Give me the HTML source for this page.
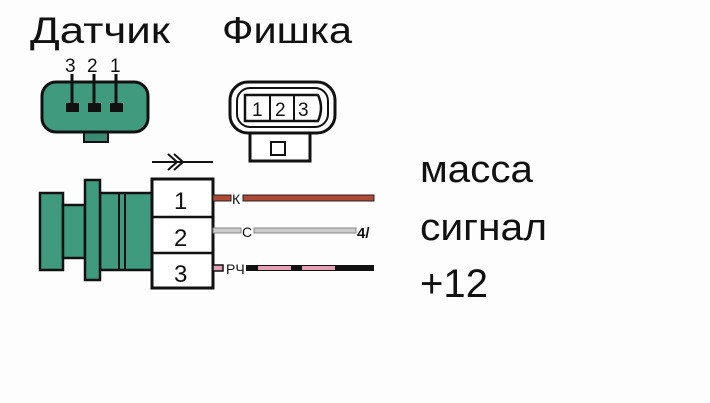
<!DOCTYPE html>
<html><head><meta charset="utf-8"><style>
html,body{margin:0;padding:0;background:#fff;}
svg{display:block}
text{font-family:"Liberation Sans","DejaVu Sans",sans-serif;fill:#111}
</style></head><body>
<svg width="710" height="403" viewBox="0 0 710 403" xmlns="http://www.w3.org/2000/svg">
<rect width="710" height="403" fill="#fdfdfd"/>
<text x="30" y="43" font-size="37" textLength="140" lengthAdjust="spacingAndGlyphs">Датчик</text>
<text x="222" y="43" font-size="37" textLength="130" lengthAdjust="spacingAndGlyphs">Фишка</text>
<!-- sensor connector top view -->
<text x="65" y="72" font-size="19">3</text>
<text x="87" y="72" font-size="19">2</text>
<text x="110" y="72" font-size="19">1</text>
<rect x="84" y="130" width="24" height="12" fill="#3a8a72" stroke="#111" stroke-width="2"/>
<rect x="42" y="82" width="106" height="50" rx="14" fill="#3f9a7e" stroke="#111" stroke-width="3"/>
<g stroke="#111" stroke-width="3"><line x1="72" y1="74" x2="72" y2="104"/><line x1="94" y1="74" x2="94" y2="104"/><line x1="116" y1="74" x2="116" y2="104"/></g>
<g fill="#111"><rect x="66" y="103" width="13" height="9"/><rect x="88" y="103" width="13" height="9"/><rect x="110" y="103" width="13" height="9"/></g>
<!-- fishka -->
<rect x="250" y="132" width="60" height="29" fill="#fff" stroke="#111" stroke-width="3"/>
<rect x="271" y="142" width="14" height="13" fill="#fff" stroke="#111" stroke-width="2"/>
<rect x="230" y="82" width="105" height="51" rx="18" fill="#fff" stroke="#111" stroke-width="3"/>
<rect x="237" y="88" width="91" height="39" rx="13" fill="#fff" stroke="#111" stroke-width="2"/>
<path d="M245 95 L318 95 Q324 108 318 121 L245 121 Z" fill="#fff" stroke="#111" stroke-width="2.5"/>
<line x1="270" y1="95" x2="270" y2="121" stroke="#111" stroke-width="2"/>
<line x1="294" y1="95" x2="294" y2="121" stroke="#111" stroke-width="2"/>
<text x="252" y="116" font-size="19">1</text>
<text x="275" y="116" font-size="19">2</text>
<text x="298" y="116" font-size="19">3</text>
<!-- arrow -->
<line x1="152" y1="162" x2="213" y2="162" stroke="#111" stroke-width="2"/>
<path d="M168 154 L177 162 L168 170 M174 154 L183 162 L174 170" fill="none" stroke="#111" stroke-width="2"/>
<!-- sensor body side -->
<g stroke="#111" stroke-width="2.5" fill="#3f9a7e">
<rect x="40" y="193" width="23" height="77"/>
<rect x="63" y="205" width="22" height="53"/>
<rect x="100" y="193" width="53" height="77"/>
<rect x="85" y="180" width="15" height="100"/>
</g>
<line x1="119" y1="193" x2="119" y2="270" stroke="#111" stroke-width="2"/>
<line x1="125" y1="193" x2="125" y2="270" stroke="#111" stroke-width="2"/>
<!-- pin box -->
<rect x="152" y="179" width="61" height="109" fill="#fff" stroke="#111" stroke-width="3"/>
<line x1="152" y1="217" x2="213" y2="217" stroke="#111" stroke-width="2.5"/>
<line x1="152" y1="253" x2="213" y2="253" stroke="#111" stroke-width="2.5"/>
<text x="174" y="209" font-size="24">1</text>
<text x="174" y="246" font-size="24">2</text>
<text x="174" y="282" font-size="24">3</text>
<!-- wires -->
<rect x="213" y="195" width="18" height="6" fill="#b14a34" stroke="#222" stroke-width="1"/>
<text x="232" y="204" font-size="14">К</text>
<rect x="243" y="195" width="131" height="6" fill="#b14a34" stroke="#222" stroke-width="1"/>
<rect x="213" y="228" width="28" height="5" fill="#ccc" stroke="#888" stroke-width="1"/>
<text x="242" y="237" font-size="14">С</text>
<rect x="254" y="228" width="102" height="5" fill="#ccc" stroke="#888" stroke-width="1"/>
<text x="357" y="238" font-size="15" font-weight="bold">4/</text>
<rect x="213" y="265" width="10" height="6" fill="#e3a0b4" stroke="#111" stroke-width="1.5"/>
<text x="226" y="274" font-size="14">РЧ</text>
<rect x="246" y="265" width="128" height="6" fill="#111"/>
<rect x="258" y="266" width="33" height="4" fill="#e3a0b4"/>
<rect x="302" y="266" width="33" height="4" fill="#e3a0b4"/>
<!-- labels -->
<text x="420" y="182" font-size="38" textLength="113" lengthAdjust="spacingAndGlyphs">масса</text>
<text x="420" y="240" font-size="38" textLength="127" lengthAdjust="spacingAndGlyphs">сигнал</text>
<text x="420" y="297" font-size="40" textLength="68" lengthAdjust="spacingAndGlyphs">+12</text>
</svg>
</body></html>
